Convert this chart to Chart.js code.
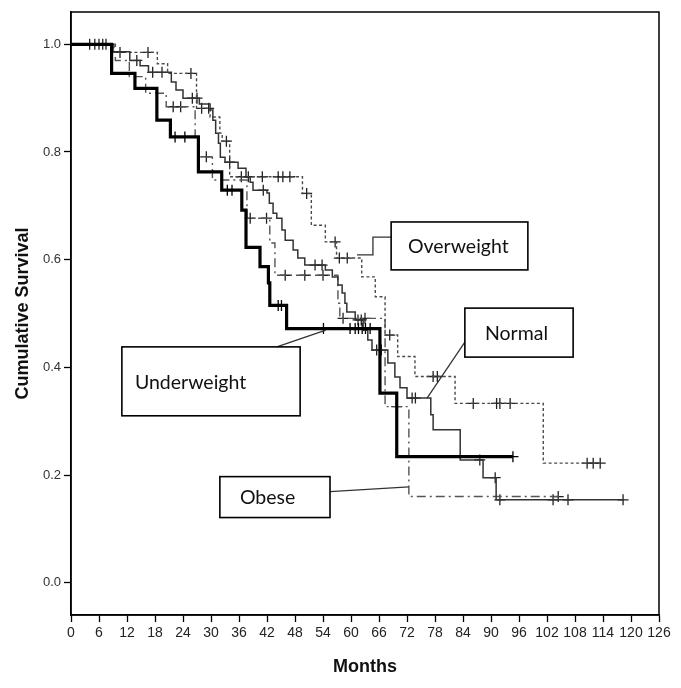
<!DOCTYPE html>
<html>
<head>
<meta charset="utf-8">
<script src="https://cdn.jsdelivr.net/npm/chart.js@4/dist/chart.umd.min.js"></script>
<style>
  html, body { margin: 0; padding: 0; background: #fff; }
</style>
</head>
<body>
<canvas id="kmChart" width="681" height="688"></canvas>
<script>
// Kaplan-Meier steps: time (months) of each drop and survival after it, last entry = end of follow-up
const uwTime = [0, 8.7, 13.7, 18.4, 21.3, 27.3, 32.3, 36.6, 37.5, 40.5, 42.3, 42.6, 46.2, 66.2, 69.8, 94.7];
const uwSurv = [1, 0.946, 0.918, 0.859, 0.828, 0.763, 0.729, 0.692, 0.623, 0.587, 0.557, 0.515, 0.472, 0.352, 0.234, 0.234];
const uwCens = [22.3, 24.4, 33.5, 34.5, 44.4, 45.1, 54.1, 59.8, 60.9, 61.6, 62.4, 63.1, 64.1, 94.7];

const nmTime = [0, 9, 12.6, 14.8, 16.6, 21.5, 22.5, 24, 27.5, 29.8, 30.4, 31, 31.6, 32, 33, 35.8, 37.5, 38.4, 39, 42, 42.5, 43.3, 44.1, 45.2, 45.9, 47.6, 48.6, 50.1, 54.5, 56, 57.2, 58.1, 58.7, 59.1, 60.9, 62.6, 63.6, 64.5, 67.9, 69.4, 70.5, 72, 77.1, 77.6, 83.4, 88.3, 91.1, 118.3];
const nmSurv = [1, 0.986, 0.97, 0.96, 0.948, 0.93, 0.915, 0.9, 0.889, 0.878, 0.859, 0.835, 0.816, 0.79, 0.781, 0.77, 0.753, 0.744, 0.729, 0.724, 0.705, 0.686, 0.677, 0.655, 0.636, 0.618, 0.603, 0.59, 0.581, 0.568, 0.553, 0.538, 0.519, 0.503, 0.488, 0.469, 0.451, 0.432, 0.408, 0.382, 0.362, 0.343, 0.312, 0.284, 0.228, 0.195, 0.154, 0.154];
const nmCens = [5.1, 6, 6.8, 7.5, 14.1, 17.5, 19.5, 26, 27, 34, 41.2, 52.3, 53.8, 61.5, 62.2, 65.5, 66.5, 73.1, 73.8, 87.6, 90.9, 91.9, 103.3, 106.5, 118.3];

const owTime = [0, 9.2, 18.5, 20.7, 26.9, 29.8, 31.9, 32.4, 34, 49.6, 51.5, 54.5, 56.9, 62.3, 65.2, 67.3, 70, 73.7, 82.3, 101.2, 113.4];
const owSurv = [1, 0.985, 0.964, 0.946, 0.881, 0.865, 0.835, 0.82, 0.754, 0.723, 0.664, 0.633, 0.603, 0.568, 0.531, 0.46, 0.42, 0.383, 0.333, 0.222, 0.222];
const owCens = [10.5, 16.5, 25.7, 28, 29.5, 33.3, 36.5, 38, 41, 44.4, 45.4, 46.9, 50.5, 56.6, 57.5, 59.2, 68.3, 77.6, 78.5, 86.2, 91.2, 91.9, 94.1, 110.6, 111.9, 113.4];

const obTime = [0, 9.5, 12.5, 16, 20.4, 26.6, 27.2, 30.3, 37.7, 42.6, 43.7, 57.2, 57.6, 67.3, 72.4, 104.8];
const obSurv = [1, 0.97, 0.94, 0.909, 0.884, 0.822, 0.791, 0.748, 0.677, 0.631, 0.571, 0.519, 0.491, 0.327, 0.16, 0.16];
const obCens = [4, 21.9, 23.5, 29, 38.4, 41.9, 45.9, 50.1, 54, 58.3, 63, 69.8, 104.4];

const xTicks = [0, 6, 12, 18, 24, 30, 36, 42, 48, 54, 60, 66, 72, 78, 84, 90, 96, 102, 108, 114, 120, 126];
const yTicks = [0, 0.2, 0.4, 0.6, 0.8, 1.0];

// survival value at time t (for placing censor ticks on the curve)
function survAt(times, surv, t) {
  let s = surv[0];
  for (let i = 0; i < times.length; i++) {
    if (times[i] <= t) s = surv[i];
  }
  return s;
}

function curve(times, surv) {
  return times.map((t, i) => ({ x: t, y: surv[i] }));
}

function censors(times, surv, cens) {
  return cens.map(t => ({ x: t, y: survAt(times, surv, t) }));
}

// label boxes, in data units
const callouts = [
  { text: "Overweight", x0: 68.6, x1: 97.9, y0: 0.581, y1: 0.670, tx: 72.2,
    leader: [[61.3, 0.609], [64.7, 0.609], [64.7, 0.642], [68.6, 0.642]] },
  { text: "Normal", x0: 84.4, x1: 107.6, y0: 0.419, y1: 0.510, tx: 88.7,
    leader: [[84.4, 0.447], [76.3, 0.343]] },
  { text: "Underweight", x0: 10.9, x1: 49.1, y0: 0.310, y1: 0.438, tx: 13.7,
    leader: [[44.1, 0.438], [54.6, 0.469]] },
  { text: "Obese", x0: 31.9, x1: 55.5, y0: 0.121, y1: 0.197, tx: 36.2,
    leader: [[55.5, 0.169], [72.4, 0.178]] }
];

const framePlugin = {
  id: "framePlugin",
  afterDatasetsDraw(chart) {
    const { ctx, chartArea: a, scales: { x, y } } = chart;
    ctx.save();
    ctx.strokeStyle = "#000";
    ctx.lineWidth = 1.5;
    ctx.strokeRect(a.left, a.top, a.right - a.left, a.bottom - a.top);

    callouts.forEach(c => {
      ctx.strokeStyle = "#333";
      ctx.lineWidth = 1.3;
      ctx.beginPath();
      c.leader.forEach((p, i) => {
        const px = x.getPixelForValue(p[0]), py = y.getPixelForValue(p[1]);
        if (i === 0) ctx.moveTo(px, py); else ctx.lineTo(px, py);
      });
      ctx.stroke();

      const l = x.getPixelForValue(c.x0), r = x.getPixelForValue(c.x1);
      const t = y.getPixelForValue(c.y1), b = y.getPixelForValue(c.y0);
      ctx.fillStyle = "#fff";
      ctx.fillRect(l, t, r - l, b - t);
      ctx.strokeStyle = "#000";
      ctx.lineWidth = 1.6;
      ctx.strokeRect(l, t, r - l, b - t);
      ctx.fillStyle = "#111";
      ctx.font = "19.5px Lato, 'Open Sans', sans-serif";
      ctx.textBaseline = "middle";
      ctx.textAlign = "left";
      ctx.fillText(c.text, x.getPixelForValue(c.tx), (t + b) / 2 + 1);
    });
    ctx.restore();
  }
};

const crossStyle = { type: "line", showLine: false, pointStyle: "cross", pointRadius: 5.5, pointBorderWidth: 1.3, pointHoverRadius: 0 };

const ctx = document.getElementById("kmChart").getContext("2d");
const kmChart = new Chart(ctx, {
  type: "line",
  data: {
    datasets: [
      { label: "Underweight", data: curve(uwTime, uwSurv), stepped: true, borderColor: "#000", borderWidth: 3.2, pointRadius: 0, fill: false },
      { label: "Normal", data: curve(nmTime, nmSurv), stepped: true, borderColor: "#333", borderWidth: 1.5, pointRadius: 0, fill: false },
      { label: "Overweight", data: curve(owTime, owSurv), stepped: true, borderColor: "#4a4a4a", borderWidth: 1.4, borderDash: [3, 2.5], pointRadius: 0, fill: false },
      { label: "Obese", data: curve(obTime, obSurv), stepped: true, borderColor: "#555", borderWidth: 1.4, borderDash: [9, 4, 2, 4], pointRadius: 0, fill: false },
      Object.assign({ label: "Underweight censored", data: censors(uwTime, uwSurv, uwCens), borderColor: "#000" }, crossStyle),
      Object.assign({ label: "Normal censored", data: censors(nmTime, nmSurv, nmCens), borderColor: "#222" }, crossStyle),
      Object.assign({ label: "Overweight censored", data: censors(owTime, owSurv, owCens), borderColor: "#222" }, crossStyle),
      Object.assign({ label: "Obese censored", data: censors(obTime, obSurv, obCens), borderColor: "#222" }, crossStyle)
    ]
  },
  options: {
    responsive: false,
    animation: false,
    layout: { padding: { top: 12, right: 22, left: 0, bottom: 0 } },
    plugins: {
      legend: { display: false },
      tooltip: { enabled: false }
    },
    scales: {
      x: {
        type: "linear",
        min: 0,
        max: 126,
        afterBuildTicks: s => { s.ticks = xTicks.map(v => ({ value: v })); },
        afterFit: s => { s.height = 73; },
        ticks: {
          autoSkip: false, maxRotation: 0, color: "#222", padding: 3,
          font: { family: "'Liberation Sans Narrow', 'Arial Narrow', 'Liberation Sans', sans-serif", size: 14 }
        },
        grid: { drawOnChartArea: false, drawTicks: true, tickLength: 7, tickColor: "#000", tickWidth: 1.3 },
        border: { display: true, color: "#000", width: 1.5 },
        title: {
          display: true, text: "Months", color: "#111",
          font: { family: "'Liberation Sans', Arial, sans-serif", size: 18, weight: "bold" },
          padding: { top: 0, bottom: 10 }
        }
      },
      y: {
        type: "linear",
        min: -0.06,
        max: 1.06,
        afterBuildTicks: s => { s.ticks = yTicks.map(v => ({ value: v })); },
        afterFit: s => { s.width = 71; },
        ticks: {
          color: "#333", padding: 3,
          font: { family: "'Liberation Sans', Arial, sans-serif", size: 13 },
          callback: v => v.toFixed(1)
        },
        grid: { drawOnChartArea: false, drawTicks: true, tickLength: 7, tickColor: "#000", tickWidth: 1.3 },
        border: { display: true, color: "#000", width: 1.5 },
        title: {
          display: true, text: "Cumulative Survival", color: "#111",
          font: { family: "'Liberation Sans', Arial, sans-serif", size: 18, weight: "bold" },
          padding: { top: 12, bottom: 0 }
        }
      }
    }
  },
  plugins: [framePlugin]
});
</script>
</body>
</html>
